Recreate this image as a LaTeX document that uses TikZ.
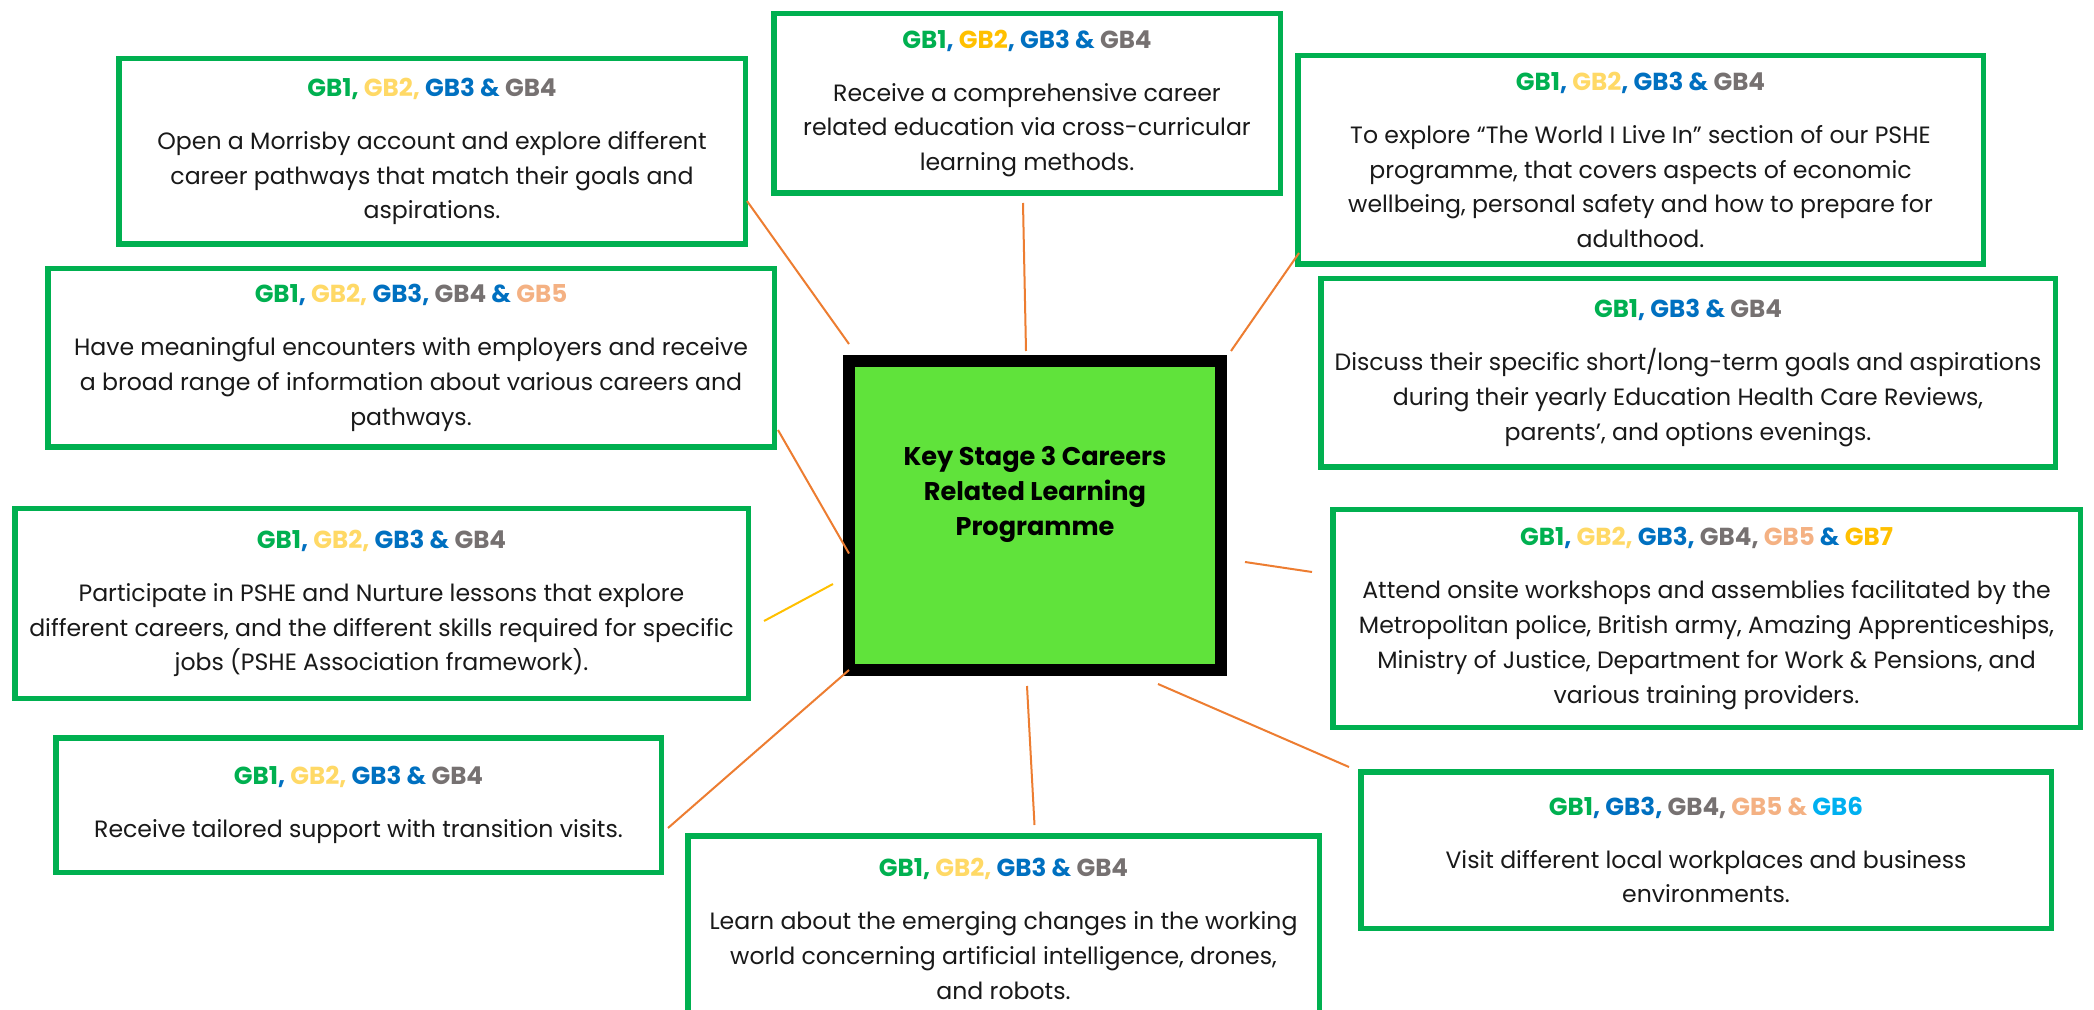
\documentclass[tikz,border=0pt]{standalone}
\usepackage{fontspec}
\setmainfont{Poppins}
\usetikzlibrary{calc}
\definecolor{gbgreen}{RGB}{0,176,80}
\definecolor{gbyellow}{RGB}{255,217,102}
\definecolor{gbgold}{RGB}{255,192,0}
\definecolor{gbblue}{RGB}{0,112,192}
\definecolor{gbgray}{RGB}{118,113,113}
\definecolor{gbpeach}{RGB}{244,177,131}
\definecolor{gbcyan}{RGB}{0,176,240}
\definecolor{lineorange}{RGB}{237,125,49}
\definecolor{kslime}{RGB}{96,227,59}
\newcommand{\cG}[1]{\textcolor{gbgreen}{#1}}
\newcommand{\cY}[1]{\textcolor{gbyellow}{#1}}
\newcommand{\cO}[1]{\textcolor{gbgold}{#1}}
\newcommand{\cB}[1]{\textcolor{gbblue}{#1}}
\newcommand{\cK}[1]{\textcolor{gbgray}{#1}}
\newcommand{\cP}[1]{\textcolor{gbpeach}{#1}}
\newcommand{\cC}[1]{\textcolor{gbcyan}{#1}}
\newcommand{\hd}[1]{{\bfseries\fontsize{12.3}{17.4}\selectfont #1}\\[9pt]}
\begin{document}
\begin{tikzpicture}[x=0.5pt,y=-0.5pt,
  gbox/.style={draw=gbgreen, line width=2.75pt, fill=white, align=center, inner sep=0pt,
    font=\fontsize{11.8}{17.4}\selectfont, text=black!90},
  conn/.style={draw=lineorange, line width=1pt},
  connY/.style={draw=gbgold, line width=1pt}]
\useasboundingbox (0,0) rectangle (2094,1010);
\clip (0,0) rectangle (2094,1010);
\fill[white] (0,0) rectangle (2094,1010);

% central box
\node[draw=black, line width=6pt, fill=kslime, minimum width=186pt, minimum height=154.5pt, inner sep=0pt] (ks) at (1035,515.5) {};
\node[align=center, font=\bfseries\fontsize{12.8}{17.5}\selectfont, inner sep=0pt] (kst) at (1035,494) {Key Stage 3 Careers\\Related Learning\\Programme};

% satellite boxes
\node[gbox, minimum width=313.25pt, minimum height=92.75pt] (b1) at (432,151.5)
 {\hd{\cG{GB1,} \cY{GB2,} \cB{GB3 \&} \cK{GB4}}Open a Morrisby account and explore different\\career pathways that match their goals and\\aspirations.};
\node[gbox, minimum width=253.25pt, minimum height=89.75pt] (b2) at (1027,103.5)
 {\hd{\cG{GB1}\cB{,} \cO{GB2}\cB{,} \cB{GB3 \&} \cK{GB4}}Receive a comprehensive career\\related education via cross-curricular\\learning methods.};
\node[gbox, minimum width=342.75pt, minimum height=104.25pt] (b3) at (1640.5,160)
 {\hd{\cG{GB1}\cB{,} \cY{GB2}\cB{,} \cB{GB3 \&} \cK{GB4}}To explore “The World I Live In” section of our PSHE\\programme, that covers aspects of economic\\wellbeing, personal safety and how to prepare for\\adulthood.};
\node[gbox, minimum width=367.25pt, minimum height=94.25pt] (b4) at (1688,373)
 {\hd{\cG{GB1}\cB{, GB3 \&} \cK{GB4}}Discuss their specific short/long-term goals and aspirations\\during their yearly Education Health Care Reviews,\\parents', and options evenings.};
\node[gbox, minimum width=363.25pt, minimum height=89.25pt] (b5) at (411,358)
 {\hd{\cG{GB1}\cB{,} \cY{GB2,} \cB{GB3,} \cK{GB4} \cB{\&} \cP{GB5}}Have meaningful encounters with employers and receive\\a broad range of information about various careers and\\pathways.};
\node[gbox, minimum width=366.75pt, minimum height=94.75pt] (b6) at (381.5,603.5)
 {\hd{\cG{GB1}\cB{,} \cY{GB2,} \cB{GB3 \&} \cK{GB4}}Participate in PSHE and Nurture lessons that explore\\different careers, and the different skills required for specific\\jobs (PSHE Association framework).};
\node[gbox, minimum width=373.75pt, minimum height=108.75pt] (b7) at (1706.5,618.5)
 {\hd{\cG{GB1}\cB{,} \cY{GB2,} \cB{GB3,} \cK{GB4,} \cP{GB5} \cB{\&} \cO{GB7}}Attend onsite workshops and assemblies facilitated by the\\Metropolitan police, British army, Amazing Apprenticeships,\\Ministry of Justice, Department for Work \& Pensions, and\\various training providers.};
\node[gbox, minimum width=302.75pt, minimum height=67.25pt] (b8) at (358.5,805)
 {\hd{\cG{GB1}\cB{,} \cY{GB2,} \cB{GB3 \&} \cK{GB4}}Receive tailored support with transition visits.};
\node[gbox, minimum width=315.75pt, minimum height=93.25pt] (b9) at (1003.5,929)
 {\hd{\cG{GB1,} \cY{GB2,} \cB{GB3 \&} \cK{GB4}}Learn about the emerging changes in the working\\world concerning artificial intelligence, drones,\\and robots.};
\node[gbox, minimum width=345.25pt, minimum height=78.25pt] (b10) at (1706,850)
 {\hd{\cG{GB1}\cB{, GB3,} \cK{GB4,} \cP{GB5 \&} \cC{GB6}}Visit different local workplaces and business\\environments.};

% connectors
\draw[conn] ($(b1.south east)+(-1,-46)$) -- ($(ks.north west)+(6,-11)$);
\draw[conn] ($(b2.south)+(-4,7)$) -- ($(ks.north)+(-9,-4)$);
\draw[conn] ($(b3.south west)+(4,-14)$) -- ($(ks.north east)+(4,-4)$);
\draw[conn] ($(b5.south east)+(1,-20)$) -- ($(ks.west)+(6,38)$);
\draw[connY] ($(b6.east)+(13,17.5)$) -- ($(ks.west)+(-10,68.5)$);
\draw[conn] ($(b8.east)+(4,23)$) -- ($(ks.south west)+(6,-6)$);
\draw[conn] ($(b9.north)+(31,-8)$) -- ($(ks.south)+(-8,10)$);
\draw[conn] ($(b10.north west)+(-9,-2)$) -- ($(ks.south)+(123,8)$);
\draw[conn] ($(b7.west)+(-18,-46.5)$) -- ($(ks.east)+(18,46.5)$);
\end{tikzpicture}
\end{document}
